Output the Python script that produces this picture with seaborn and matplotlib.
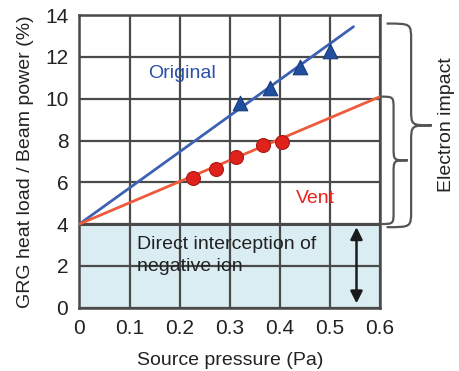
import numpy as np
import matplotlib
matplotlib.use("Agg")
import matplotlib.pyplot as plt
import seaborn as sns
from matplotlib.path import Path
from matplotlib.patches import PathPatch

# data
orig_x = [0.32, 0.38, 0.44, 0.50]
orig_y = [9.8, 10.5, 11.5, 12.3]
vent_x = [0.226, 0.273, 0.313, 0.366, 0.404]
vent_y = [6.2, 6.65, 7.2, 7.8, 7.95]
# fitted lines (start, end)
orig_fit_x = [0.0, 0.547]
orig_fit_y = [4.0, 13.45]
vent_fit_x = [0.0, 0.6]
vent_fit_y = [4.0, 10.1]
direct_level = 4.0

x_ticks = [0, 0.1, 0.2, 0.3, 0.4, 0.5, 0.6]
x_labels = ["0", "0.1", "0.2", "0.3", "0.4", "0.5", "0.6"]
y_ticks = [0, 2, 4, 6, 8, 10, 12, 14]

sns.set_theme(style="white")
plt.rcParams['font.family'] = ['Liberation Sans', 'DejaVu Sans']

fig = plt.figure(figsize=(4.59, 3.71), dpi=100)
ax = fig.add_axes([0.173, 0.171, 0.655, 0.788])

ax.axhspan(0, direct_level, color="#daedf3", zorder=0)

sns.lineplot(x=orig_fit_x, y=orig_fit_y, ax=ax, color="#3d62b3", lw=2, zorder=3)
sns.lineplot(x=vent_fit_x, y=vent_fit_y, ax=ax, color="#ef5a3c", lw=2, zorder=3)
sns.scatterplot(x=orig_x, y=orig_y, ax=ax, marker="^", s=110, color="#1f4f9e",
                edgecolor="#173c7a", linewidth=0.8, zorder=4)
sns.scatterplot(x=vent_x, y=vent_y, ax=ax, marker="o", s=100, color="#e0221c",
                edgecolor="#a81a14", linewidth=0.8, zorder=4)

ax.set_xlim(0, 0.6)
ax.set_ylim(0, 14)
ax.set_xticks(x_ticks)
ax.set_xticklabels(x_labels)
ax.set_yticks(y_ticks)
ax.grid(True, color="#4a4a4a", lw=1.6)
ax.set_axisbelow(True)
for s in ax.spines.values():
    s.set_color("#4a4a4a")
    s.set_linewidth(1.8)
ax.axhline(direct_level, color="#4a4a4a", lw=2.2, zorder=2)
ax.tick_params(axis="both", labelsize=15, length=0, pad=8, colors="#222222")

ax.set_xlabel("Source pressure (Pa)", fontsize=14, labelpad=10, color="#222222")
ax.set_ylabel("GRG heat load / Beam power (%)", fontsize=14, labelpad=8, color="#222222")

ax.text(0.205, 11.2, "Original", color="#2a4fa8", fontsize=14, ha="center", va="center")
ax.text(0.47, 5.2, "Vent", color="#e8231e", fontsize=14, ha="center", va="center")
ax.text(0.115, 3.0, "Direct interception of", color="#222222",
        fontsize=14, ha="left", va="center")
ax.text(0.115, 1.95, "negative ion", color="#222222",
        fontsize=14, ha="left", va="center")

ax.annotate("", xy=(0.553, 0.2), xytext=(0.553, 3.85),
            arrowprops=dict(arrowstyle="<|-|>", color="#1a1a1a", lw=1.8,
                            mutation_scale=18, shrinkA=0, shrinkB=0))


def brace(x0, xm, xt, y0, y1, d):
    ym = (y0 + y1) / 2
    verts = [(x0, y1), (xm, y1), (xm, y1), (xm, y1 - d),
             (xm, ym + d),
             (xm, ym), (xm, ym), (xt, ym),
             (xm, ym), (xm, ym), (xm, ym - d),
             (xm, y0 + d),
             (xm, y0), (xm, y0), (x0, y0)]
    codes = [Path.MOVETO, Path.CURVE4, Path.CURVE4, Path.CURVE4,
             Path.LINETO,
             Path.CURVE4, Path.CURVE4, Path.CURVE4,
             Path.CURVE4, Path.CURVE4, Path.CURVE4,
             Path.LINETO,
             Path.CURVE4, Path.CURVE4, Path.CURVE4]
    p = PathPatch(Path(verts, codes), fill=False, edgecolor="#555555", lw=1.6,
                  clip_on=False, zorder=5)
    ax.add_patch(p)


brace(0.613, 0.662, 0.703, 3.85, 13.6, 0.8)
brace(0.600, 0.627, 0.655, 4.0, 10.1, 0.6)

fig.text(0.972, 0.663, "Electron impact", rotation=90, fontsize=14,
         ha="center", va="center", color="#222222")

fig.savefig("out.png", dpi=100)
